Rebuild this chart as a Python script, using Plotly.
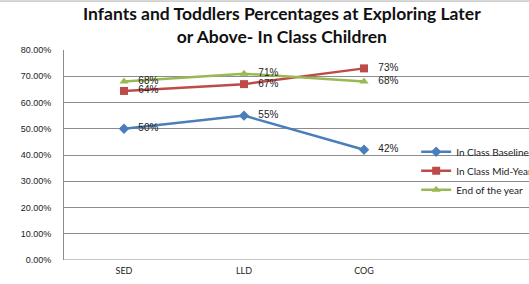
import plotly.graph_objects as go

categories = ["SED", "LLD", "COG"]
baseline = [0.50, 0.55, 0.42]
mid_year = [0.644, 0.67, 0.73]
end_year = [0.68, 0.71, 0.68]
y_ticks = [0, 0.1, 0.2, 0.3, 0.4, 0.5, 0.6, 0.7, 0.8]

series = [
    ("In Class Baseline", baseline, "#4A7EBB", "diamond", 8),
    ("In Class Mid-Year", mid_year, "#BE4B48", "square", 8),
    ("End of the year", end_year, "#98B954", "triangle-up", 8),
]

fig = go.Figure()
for name, vals, color, sym, sz in series:
    fig.add_trace(go.Scatter(
        x=[0, 1, 2], y=vals, name=name, mode="lines+markers+text",
        line=dict(color=color, width=2.5),
        marker=dict(symbol=sym, size=sz, color=color),
        text=[f"   {round(v*100)}%" for v in vals],
        textposition="middle right",
        textfont=dict(family="Liberation Sans, Arial", size=10, color="#222"),
        cliponaxis=False,
    ))

fig.update_layout(
    width=560, height=284,
    margin=dict(l=64, r=0, t=50, b=24, autoexpand=False),
    paper_bgcolor="white", plot_bgcolor="white",
    annotations=[dict(
        text="<b>Infants and Toddlers Percentages at Exploring Later<br>or Above- In Class Children</b>",
        xref="paper", yref="paper", x=0.4395, xanchor="center",
        y=1.235, yanchor="top", showarrow=False, align="center",
        font=dict(family="Lato", size=17.5, color="#111"),
    )],
    xaxis=dict(
        range=[-0.5, 3.633], tickvals=[0, 1, 2], ticktext=categories,
        showgrid=False, zeroline=False, showline=False,
        tickfont=dict(family="Lato", size=9, color="#222"),
        ticks="", ticklabelstandoff=4,
    ),
    yaxis=dict(
        range=[0, 0.8], tickvals=y_ticks, tickformat=".2%",
        showgrid=True, gridcolor="#8c8c8c", gridwidth=1,
        zeroline=False, showline=True, linecolor="#8c8c8c", linewidth=1,
        tickfont=dict(family="Liberation Sans, Arial", size=9, color="#222"),
        ticks="", ticklabelstandoff=10,
    ),
    legend=dict(
        x=0.71, xanchor="left", y=0.425, yanchor="middle",
        bgcolor="rgba(0,0,0,0)", font=dict(family="Lato", size=10, color="#222"),
        itemwidth=30, tracegroupgap=0,
    ),
    shapes=[
        dict(type="line", xref="paper", yref="y", x0=0, x1=1, y0=0, y1=0,
             line=dict(color="#8c8c8c", width=1)),
        dict(type="line", xref="paper", yref="paper", x0=-0.2, x1=1.01, y0=1.233, y1=1.233,
             line=dict(color="#aaaaaa", width=1)),
    ],
)

fig.write_html("out.html", config={"displayModeBar": False},
               post_script="document.body.style.margin='0';document.body.style.overflow='hidden';")
